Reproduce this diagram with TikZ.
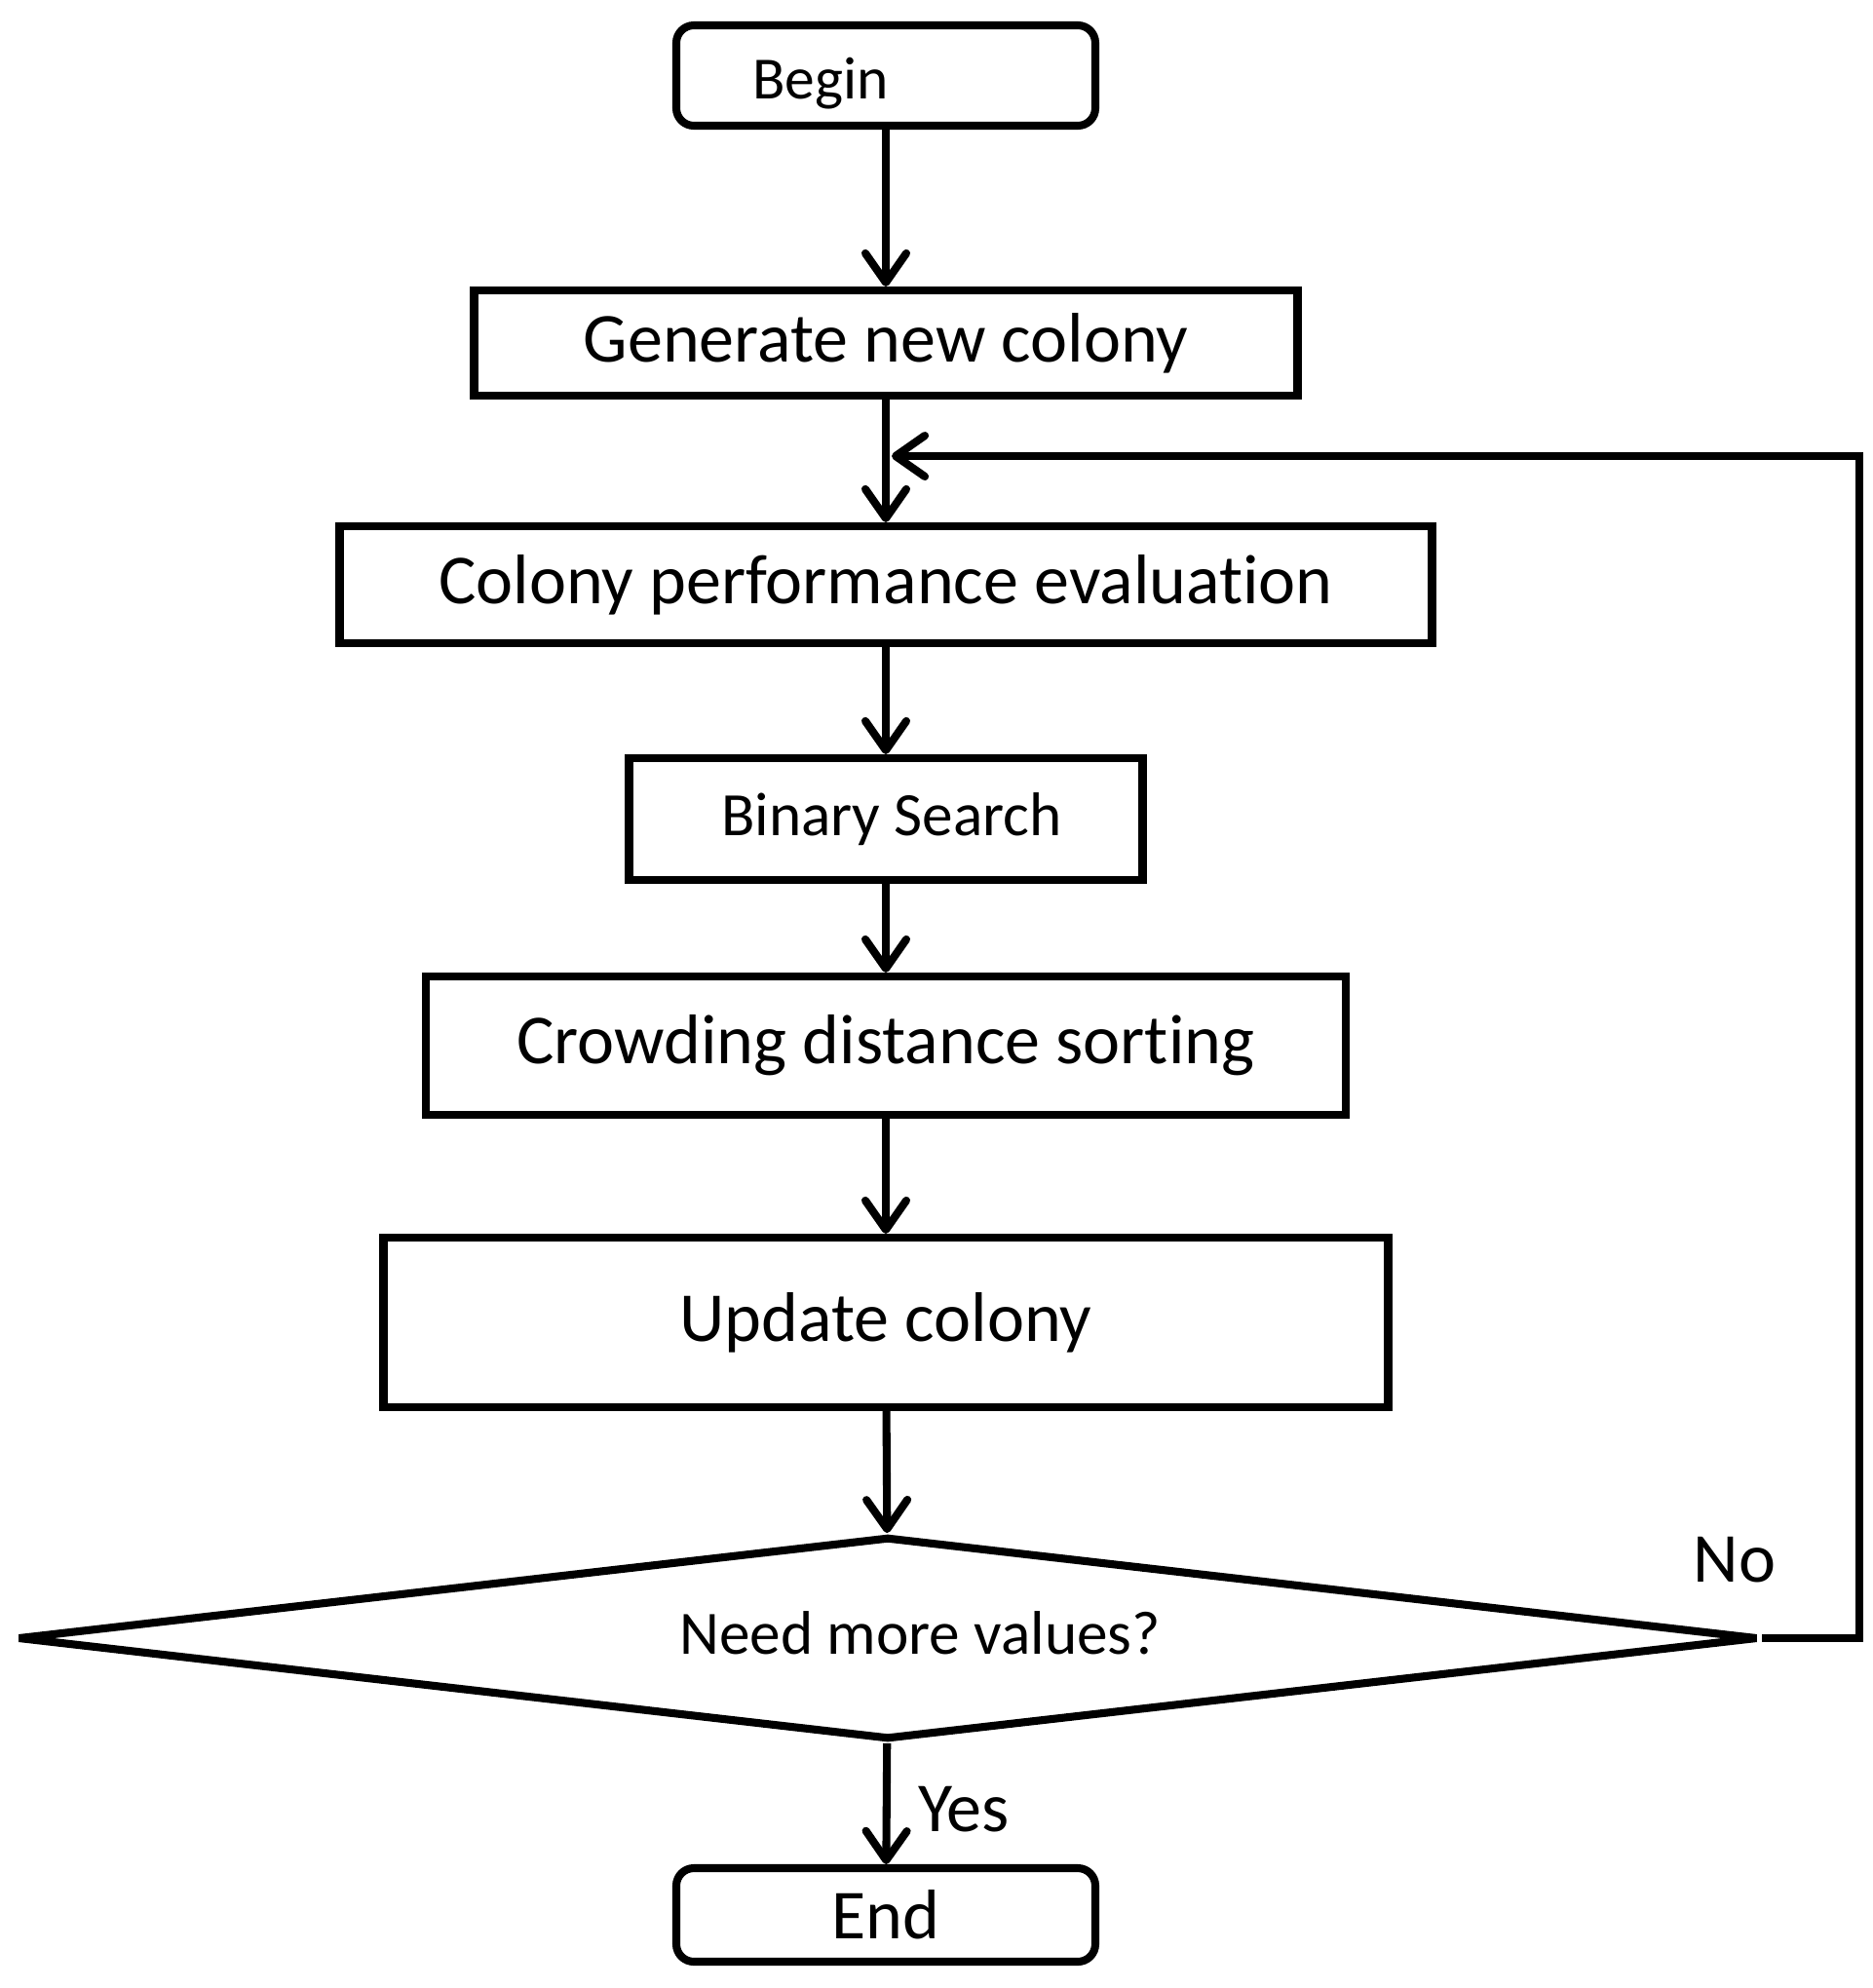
\documentclass[tikz,border=0pt]{standalone}
\usepackage{fontspec}
\setmainfont[Ligatures={NoCommon}]{Carlito}
\usepackage{tikz}
\usetikzlibrary{shapes.geometric,arrows.meta,positioning,calc}

\begin{document}
\begin{tikzpicture}[
      line width=2.3pt,
      term/.style={draw, rounded corners=0.18cm, minimum width=4.30cm, inner sep=0pt},
      box/.style={draw, align=center, font=\fontsize{20.5}{24}\selectfont, inner sep=0pt},
      cond/.style={draw, diamond, line join=bevel, inner sep=0pt, minimum width=17.86cm, minimum height=2.08cm},
      lbl/.style={font=\fontsize{20.5}{24}\selectfont, inner sep=0pt},
      arr/.style={-{Straight Barb[length=0.30cm, width=0.42cm, round]}}
    ]
    \useasboundingbox (0,0) rectangle (19.22,-20.40);
    \node[term, minimum height=1.03cm, label={[font=\fontsize{17.5}{21}\selectfont, xshift=-0.67cm, yshift=-0.08cm]center:Begin}] (begin) at (9.09,-0.775) {};
    \node[box, minimum width=8.45cm, minimum height=1.08cm] (gen) at (9.09,-3.52) {Generate new colony};
    \node[box, minimum width=11.21cm, minimum height=1.20cm] (eval) at (9.09,-6.00) {Colony performance evaluation};
    \node[box, minimum width=5.27cm, minimum height=1.25cm, font=\fontsize{18}{22}\selectfont] (bs) at (9.09,-8.405) {\hspace{0.12cm}Binary Search};
    \node[box, minimum width=9.44cm, minimum height=1.42cm] (cds) at (9.09,-10.73) {Crowding distance sorting};
    \node[box, minimum width=10.31cm, minimum height=1.74cm] (upd) at (9.09,-13.57) {Update colony};
    \node[cond, label={[font=\fontsize{18}{22}\selectfont, xshift=0.33cm, yshift=0.05cm]center:Need more values?}] (dec) at (9.11,-16.81) {};
    \node[term, minimum height=0.96cm, font=\fontsize{20.5}{24}\selectfont] (stop) at (9.09,-19.65) {End};
    \coordinate (merge) at (9.15,-4.68);
    \node[lbl] (no) at (17.80,-16.01) {No};
    \node[lbl] (yes) at (9.89,-18.57) {Yes};
    \draw[arr] (begin) -- (gen);
    \draw[arr] (gen) -- (eval);
    \draw[arr] (eval) -- (bs);
    \draw[arr] (bs) -- (cds);
    \draw[arr] (cds) -- (upd);
    \draw[arr] (upd) -- (dec);
    \draw[arr] (dec) -- (stop);
    \draw[arr] (dec.east) -- ++(1.0,0) |- (merge);
  \end{tikzpicture}
\end{document}
